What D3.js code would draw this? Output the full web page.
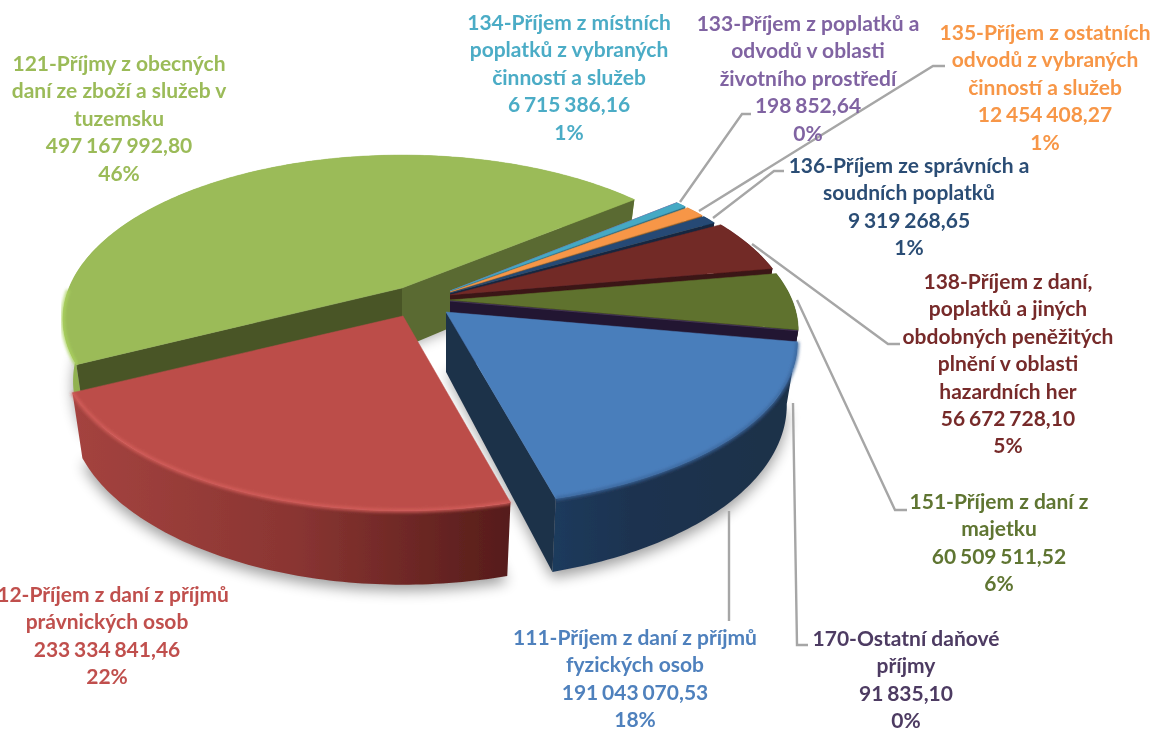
<!DOCTYPE html>
<html>
<head>
<meta charset="utf-8">
<title>Daňové příjmy</title>
<style>
html, body { margin: 0; background: #fff; overflow: hidden; }
svg { display: block; }
text { font-family: Lato, "Open Sans", sans-serif; font-weight: 700; font-size: 21px; text-anchor: middle; }
</style>
<script src="https://d3js.org/d3.v7.min.js"></script>
</head>
<body>
<svg id="chart" width="1155" height="729"></svg>
<script>
// chart values
var codes = ['111', '112', '121', '133', '134', '135', '136', '138', '151', '170'];
var titles = [
    ['111-Příjem z daní z příjmů', 'fyzických osob'],
    ['112-Příjem z daní z příjmů', 'právnických osob'],
    ['121-Příjmy z obecných', 'daní ze zboží a služeb v', 'tuzemsku'],
    ['133-Příjem z poplatků a', 'odvodů v oblasti', 'životního prostředí'],
    ['134-Příjem z místních', 'poplatků z vybraných', 'činností a služeb'],
    ['135-Příjem z ostatních', 'odvodů z vybraných', 'činností a služeb'],
    ['136-Příjem ze správních a', 'soudních poplatků'],
    ['138-Příjem z daní,', 'poplatků a jiných', 'obdobných peněžitých', 'plnění v oblasti', 'hazardních her'],
    ['151-Příjem z daní z', 'majetku'],
    ['170-Ostatní daňové', 'příjmy']
];
var values = [191043070.53, 233334841.46, 497167992.80, 198852.64, 6715386.16, 12454408.27, 9319268.65, 56672728.10, 60509511.52, 91835.10];
var percents = [18, 22, 46, 0, 1, 1, 1, 5, 6, 0];

// colours
var topColors = ['#4a7ebb', '#bc4e4a', '#9bbb59', '#8064a2', '#45a9c4', '#f79646', '#254a75', '#722a27', '#5e722e', '#4d3b62'];
var faceColors = ['#1d3149', '#5a1f1d', '#4a5528', '#4d3b62', '#2a6c80', '#a8621f', '#14263f', '#3a1214', '#2e3a16', '#241630'];
var rimColors = ['#3a669c', '#d65f5b', '#abd35f', '#8064a2', '#45a9c4', '#f79646', '#254a75', '#722a27', '#5e722e', '#4d3b62'];
var labelColors = ['#4f81bd', '#c0504d', '#9bbb59', '#8064a2', '#4bacc6', '#f79646', '#2c4d75', '#772c2a', '#5f7530', '#4d3b62'];

// layout of the tilted pie: screen position of each slice tip (they are pulled apart)
var tipX = [446, 403, 402, 450, 450, 450, 450, 450, 450, 450];
var tipY = [312, 316, 288, 291, 291, 292, 293, 295, 300, 301];
var radiusX = [345, 338, 333, 325, 325, 328, 330, 338, 342, 342];
var radiusY = 158;
var camera = 5.3;
var depth = 60;
var taper = 0.03;
var drawOrder = [2, 3, 4, 5, 6, 7, 8, 9, 0, 1];

// label placement
var labelX = [635, 107, 119, 808, 569, 1045, 909, 1008, 999, 906];
var labelY = [645, 602, 71, 31, 30, 40, 173, 289, 509, 646];
var lineHeight = 27.4;

// leader lines
var leaders = [
    [[729, 511], [729, 621]],
    [[680, 202], [742, 114], [751, 114]],
    [[699, 211], [933, 66], [945, 66]],
    [[713, 218], [774, 171], [784, 171]],
    [[752, 244], [888, 344], [900, 344]],
    [[797, 300], [895, 510], [907, 510]],
    [[793, 403], [797, 645], [808, 645]]
];

var numberFormat = d3.formatLocale({decimal: ',', thousands: ' ', grouping: [3], currency: ['', '']}).format(',.2f');

var svg = d3.select('#chart');
var defs = svg.append('defs');

defs.append('filter').attr('id', 'shadow')
    .attr('x', '-20%').attr('y', '-20%').attr('width', '140%').attr('height', '140%')
    .append('feGaussianBlur').attr('stdDeviation', 7);
defs.append('filter').attr('id', 'bevel')
    .attr('x', '-10%').attr('y', '-10%').attr('width', '120%').attr('height', '120%')
    .append('feGaussianBlur').attr('stdDeviation', 1.6);
defs.append('filter').attr('id', 'soft')
    .attr('filterUnits', 'userSpaceOnUse')
    .attr('x', 0).attr('y', 0).attr('width', 1155).attr('height', 729)
    .append('feGaussianBlur').attr('stdDeviation', 0.45);

// outer wall gradients
function wallGradient(id, x1, x2, stops){
    var g = defs.append('linearGradient').attr('id', id)
        .attr('gradientUnits', 'userSpaceOnUse')
        .attr('x1', x1).attr('x2', x2).attr('y1', 0).attr('y2', 0);
    stops.forEach(function(s){
        g.append('stop').attr('offset', s[0]).attr('stop-color', s[1]);
    });
}
wallGradient('wall0', 557, 800, [[0, '#1f3a5c'], [0.3, '#1e3350'], [1, '#1d3048']]);
wallGradient('wall1', 75, 512, [[0, '#a4433f'], [0.5, '#8a3532'], [1, '#551c1a']]);
wallGradient('wall2', 60, 90, [[0, '#93b552'], [1, '#8fae50']]);

var pie = d3.pie().sort(null).value(function(d){ return d; })
    .startAngle(100.5 * Math.PI / 180)
    .endAngle(460.5 * Math.PI / 180);
var arcs = pie(values);

// plane angle and radius -> screen, with a little perspective toward the viewer
function project(i, a, r, z){
    var px = Math.sin(a) * r * (1 - taper * z);
    var py = -Math.cos(a) * r;
    var s = camera / (camera - py);
    return [tipX[i] + px * radiusX[i] * s, tipY[i] + py * radiusY * s + z * depth * s];
}

function rim(i, z){
    var a0 = arcs[i].startAngle, a1 = arcs[i].endAngle;
    var n = Math.max(2, Math.ceil((a1 - a0) * 60));
    return d3.range(n + 1).map(function(k){
        return project(i, a0 + (a1 - a0) * k / n, 1, z);
    });
}

var line = d3.line();
function outline(pts){ return line(pts) + 'Z'; }

var chart = svg.append('g').attr('filter', 'url(#soft)');

// soft shadow under the three big slices
chart.append('g').selectAll('path').data([2, 1, 0]).join('path')
    .attr('d', function(i){
        return outline(rim(i, 1).map(function(p){ return [p[0], p[1] + 6]; }).concat([project(i, 0, 0, 1)]));
    })
    .attr('fill', '#000')
    .attr('opacity', 0.38)
    .attr('filter', 'url(#shadow)');

// slices back to front
var slices = chart.append('g').selectAll('g').data(drawOrder).join('g');

// outer wall
slices.append('path')
    .attr('d', function(i){ return outline(rim(i, 0).concat(rim(i, 1).reverse())); })
    .attr('fill', function(i){ return i <= 2 ? 'url(#wall' + i + ')' : faceColors[i]; });

// side faces, only the ones that turn to the viewer
slices.each(function(i){
    var g = d3.select(this);
    [arcs[i].startAngle, arcs[i].endAngle].forEach(function(a, k){
        var normal = k === 0 ? a - Math.PI / 2 : a + Math.PI / 2;
        if (-Math.cos(normal) <= 0) return;
        var color = faceColors[i];
        if (codes[i] === '121' && k === 1) color = '#5a6a30';
        g.append('path')
            .attr('d', outline([project(i, a, 0, 0), project(i, a, 1, 0), project(i, a, 1, 1), project(i, a, 0, 1)]))
            .attr('fill', color);
    });
});

// top surface
slices.append('path')
    .attr('d', function(i){ return outline(rim(i, 0).concat([project(i, 0, 0, 0)])); })
    .attr('fill', function(i){ return topColors[i]; })
    .attr('stroke', function(i){ return topColors[i]; })
    .attr('stroke-width', 0.5)
    .attr('stroke-linejoin', 'round');

// lighter bevel along the front rim of the big slices
slices.filter(function(i){ return i <= 2; }).append('path')
    .attr('d', function(i){
        return line(rim(i, 0).filter(function(p, k, all){
            var a = arcs[i].startAngle + (arcs[i].endAngle - arcs[i].startAngle) * k / (all.length - 1);
            return -Math.cos(a) > 0;
        }));
    })
    .attr('fill', 'none')
    .attr('stroke', function(i){ return rimColors[i]; })
    .attr('stroke-width', 4)
    .attr('opacity', 0.8)
    .attr('filter', 'url(#bevel)');

// leader lines
chart.append('g').selectAll('path').data(leaders).join('path')
    .attr('d', line)
    .attr('fill', 'none')
    .attr('stroke', '#a6a6a6')
    .attr('stroke-width', 2.4);

// data labels
var labels = chart.append('g').selectAll('text').data(codes).join('text')
    .attr('fill', function(d, i){ return labelColors[i]; });

labels.each(function(d, i){
    var rows = titles[i].concat([numberFormat(values[i]), percents[i] + '%']);
    d3.select(this).selectAll('tspan').data(rows).join('tspan')
        .attr('x', labelX[i])
        .attr('y', function(r, k){ return labelY[i] + k * lineHeight; })
        .attr('word-spacing', function(r, k){ return k === titles[i].length ? -1.3 : null; })
        .text(function(r){ return r; });
});
</script>
</body>
</html>
